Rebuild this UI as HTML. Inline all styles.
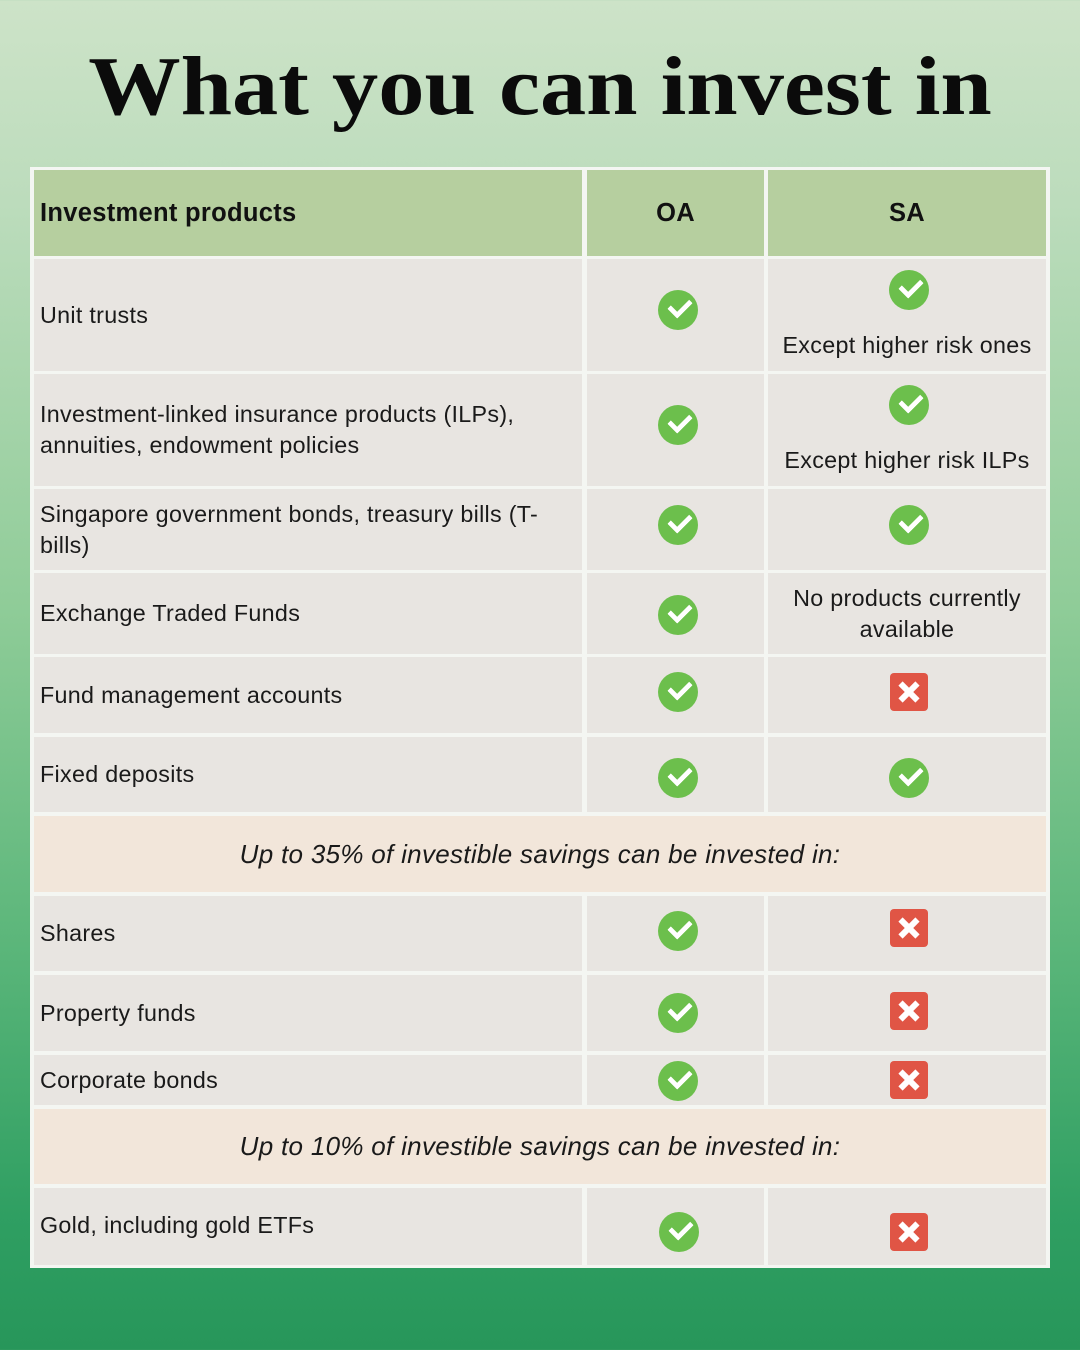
<!DOCTYPE html>
<html><head><meta charset="utf-8"><style>
*{margin:0;padding:0;box-sizing:border-box}
body{width:1080px;height:1350px;position:relative;overflow:hidden;font-family:"Liberation Sans",sans-serif;
background:linear-gradient(180deg,#cde3c8 0%,#bcdcbc 15%,#8fcc98 45%,#5bb67a 70%,#2f9f62 90%,#27965a 100%)}
h1{position:absolute;left:0;width:1080px;top:38px;text-align:center;font-family:"Liberation Serif",serif;font-weight:bold;font-size:84px;color:#0b0b0b;transform:scaleX(1.1);transform-origin:540px 0}
#tbl{position:absolute;left:30px;top:167px;width:1020px;height:1101px;background:#f4f6f2}
.c{position:absolute;background:#e8e5e1;font-size:23.3px;color:#1a1a1a;display:flex;align-items:center;letter-spacing:0.3px}
.h{background:#b6cf9f;font-weight:bold;font-size:25.5px;color:#111}
.l{padding-left:6px;line-height:31px}
.m{justify-content:center;text-align:center;line-height:31px}
.b{background:#f2e6da;font-style:italic;justify-content:center;font-size:26px}
.ok{position:absolute;width:40px;height:40px;border-radius:50%;background:#6cbf4c}
.ok::after{content:"";position:absolute;left:11px;top:9px;width:17px;height:9px;border-left:5px solid #fff;border-bottom:5px solid #fff;transform:rotate(-45deg);border-radius:1px}
.no{position:absolute;width:38px;height:38px;border-radius:4px;background:#e05545}
.no::before,.no::after{content:"";position:absolute;left:7px;top:16px;width:24px;height:6px;background:#fff;transform:rotate(45deg)}
.no::after{transform:rotate(-45deg)}
.st{position:absolute;left:768px;width:278px;text-align:center;font-size:23.3px;color:#1a1a1a;letter-spacing:0.3px}
</style></head><body>
<h1>What you can invest in</h1>
<div id="tbl"></div>

<div class="c h l" style="left:34px;top:170px;width:548px;height:86px">Investment products</div>
<div class="c h m" style="left:587px;top:170px;width:177px;height:86px">OA</div>
<div class="c h m" style="left:768px;top:170px;width:278px;height:86px">SA</div>

<div class="c l" style="left:34px;top:259px;width:548px;height:112px">Unit trusts</div>
<div class="c" style="left:587px;top:259px;width:177px;height:112px"></div>
<div class="c" style="left:768px;top:259px;width:278px;height:112px"></div>

<div class="c l" style="left:34px;top:374px;width:548px;height:112px">Investment-linked insurance products (ILPs),<br>annuities, endowment policies</div>
<div class="c" style="left:587px;top:374px;width:177px;height:112px"></div>
<div class="c" style="left:768px;top:374px;width:278px;height:112px"></div>

<div class="c l" style="left:34px;top:489px;width:548px;height:81px">Singapore government bonds, treasury bills (T-<br>bills)</div>
<div class="c" style="left:587px;top:489px;width:177px;height:81px"></div>
<div class="c" style="left:768px;top:489px;width:278px;height:81px"></div>

<div class="c l" style="left:34px;top:573px;width:548px;height:81px">Exchange Traded Funds</div>
<div class="c" style="left:587px;top:573px;width:177px;height:81px"></div>
<div class="c m" style="left:768px;top:573px;width:278px;height:81px">No products currently<br>available</div>

<div class="c l" style="left:34px;top:657px;width:548px;height:76px">Fund management accounts</div>
<div class="c" style="left:587px;top:657px;width:177px;height:76px"></div>
<div class="c" style="left:768px;top:657px;width:278px;height:76px"></div>

<div class="c l" style="left:34px;top:737px;width:548px;height:75px">Fixed deposits</div>
<div class="c" style="left:587px;top:737px;width:177px;height:75px"></div>
<div class="c" style="left:768px;top:737px;width:278px;height:75px"></div>

<div class="c b" style="left:34px;top:816px;width:1012px;height:76px">Up to 35% of investible savings can be invested in:</div>

<div class="c l" style="left:34px;top:896px;width:548px;height:75px">Shares</div>
<div class="c" style="left:587px;top:896px;width:177px;height:75px"></div>
<div class="c" style="left:768px;top:896px;width:278px;height:75px"></div>

<div class="c l" style="left:34px;top:975px;width:548px;height:76px">Property funds</div>
<div class="c" style="left:587px;top:975px;width:177px;height:76px"></div>
<div class="c" style="left:768px;top:975px;width:278px;height:76px"></div>

<div class="c l" style="left:34px;top:1055px;width:548px;height:50px">Corporate bonds</div>
<div class="c" style="left:587px;top:1055px;width:177px;height:50px"></div>
<div class="c" style="left:768px;top:1055px;width:278px;height:50px"></div>

<div class="c b" style="left:34px;top:1109px;width:1012px;height:75px">Up to 10% of investible savings can be invested in:</div>

<div class="c l" style="left:34px;top:1188px;width:548px;height:77px;align-items:flex-start;padding-top:22px">Gold, including gold ETFs</div>
<div class="c" style="left:587px;top:1188px;width:177px;height:77px"></div>
<div class="c" style="left:768px;top:1188px;width:278px;height:77px"></div>

<div class="ok" style="left:658px;top:290px"></div>
<div class="ok" style="left:658px;top:405px"></div>
<div class="ok" style="left:658px;top:505px"></div>
<div class="ok" style="left:658px;top:595px"></div>
<div class="ok" style="left:658px;top:672px"></div>
<div class="ok" style="left:658px;top:758px"></div>
<div class="ok" style="left:658px;top:911px"></div>
<div class="ok" style="left:658px;top:993px"></div>
<div class="ok" style="left:658px;top:1061px"></div>
<div class="ok" style="left:659px;top:1212px"></div>

<div class="ok" style="left:889px;top:270px"></div>
<div class="st" style="top:332px">Except higher risk ones</div>
<div class="ok" style="left:889px;top:385px"></div>
<div class="st" style="top:447px">Except higher risk ILPs</div>
<div class="ok" style="left:889px;top:505px"></div>
<div class="no" style="left:890px;top:673px"></div>
<div class="ok" style="left:889px;top:758px"></div>
<div class="no" style="left:890px;top:909px"></div>
<div class="no" style="left:890px;top:992px"></div>
<div class="no" style="left:890px;top:1061px"></div>
<div class="no" style="left:890px;top:1213px"></div>
</body></html>
